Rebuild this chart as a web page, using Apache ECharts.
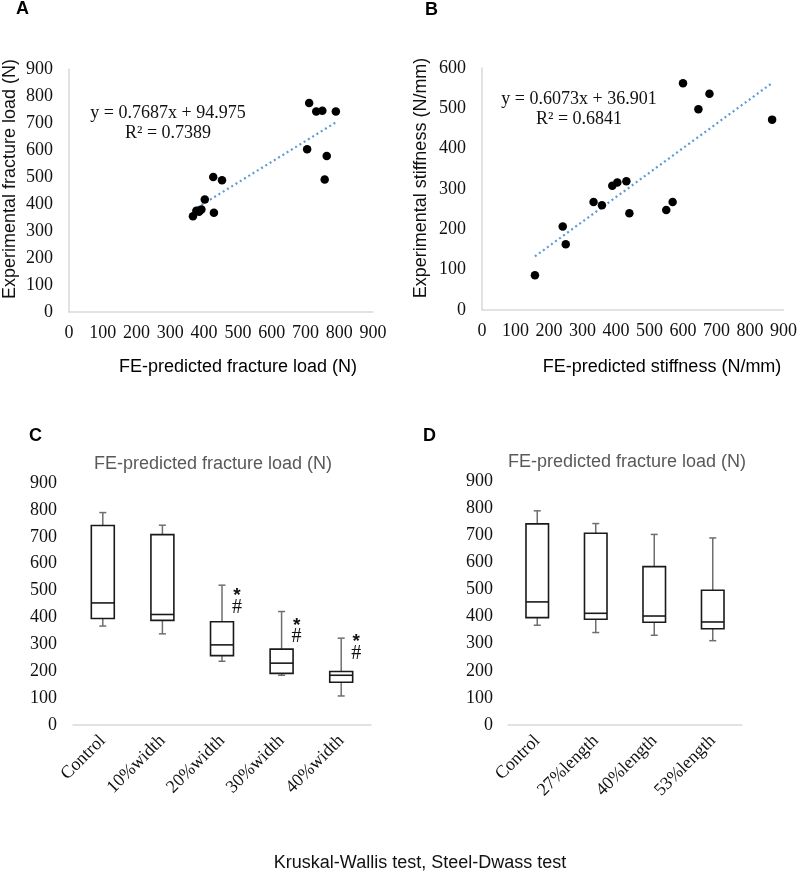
<!DOCTYPE html>
<html><head><meta charset="utf-8">
<script src="https://cdn.jsdelivr.net/npm/echarts@6/dist/echarts.min.js"></script>
<style>html,body{margin:0;padding:0;background:#fff}#c{width:800px;height:872px}</style>
</head><body><div id="c"></div>
<script>
// ---- data ----
const loadPredX = [711, 732, 750, 790, 705, 763, 757, 427, 453, 402, 392, 385, 377, 429, 367];
const loadExpY  = [774, 743, 745, 743, 603, 578, 491, 500, 488, 417, 380, 371, 375, 368, 355];
const loadSlope = 0.7687, loadIntercept = 94.975, loadR2 = 0.7389;

const stiffPredX = [600, 679, 646, 866, 431, 404, 389, 333, 358, 440, 550, 569, 241, 250, 158];
const stiffExpY  = [562, 536, 498, 472, 319, 316, 308, 268, 260, 240, 248, 268, 207, 163, 86];
const stiffSlope = 0.6073, stiffIntercept = 36.901, stiffR2 = 0.6841;

const widthCats = ['Control', '10%width', '20%width', '30%width', '40%width'];
// [min, Q1, median, Q3, max]
const widthBoxes = [
  [368, 396, 454, 742, 790],
  [339, 389, 411, 708, 743],
  [237, 258, 298, 384, 520],
  [185, 192, 230, 282, 422],
  [108, 159, 185, 199, 323]
];
// annotation heights ('*', '#') for groups with significance
const widthSig = [[2, 495, 435], [3, 383, 327], [4, 323, 264]];

const lengthCats = ['Control', '27%length', '40%length', '53%length'];
const lengthBoxes = [
  [368, 396, 454, 742, 790],
  [341, 390, 412, 707, 743],
  [331, 379, 402, 584, 703],
  [311, 355, 380, 497, 690]
];

const ticks900 = 100;

// ---- helpers ----
const SERIF = "'Liberation Serif','Times New Roman',serif";
const SANS = "'Liberation Sans',Arial,sans-serif";
const AX = '#d9d9d9';
const FS = 18;

function trend(xs, m, b) {
  const lo = Math.min(...xs), hi = Math.max(...xs);
  return [[lo, m * lo + b], [hi, m * hi + b]];
}
function zip(xs, ys) { return xs.map((x, i) => [x, ys[i]]); }

function boxRender(params, api) {
  const i = api.value(0);
  const pMin = api.coord([i, api.value(1)]);
  const pQ1 = api.coord([i, api.value(2)]);
  const pMed = api.coord([i, api.value(3)]);
  const pQ3 = api.coord([i, api.value(4)]);
  const pMax = api.coord([i, api.value(5)]);
  const bw = api.size([1, 0])[0] * 0.385;
  const cx = pMed[0];
  const cap = 3.5;
  const wStyle = { stroke: '#6f6f6f', lineWidth: 1.5 };
  const bStyle = { stroke: '#1a1a1a', lineWidth: 1.6 };
  return {
    type: 'group',
    children: [
      { type: 'line', shape: { x1: cx, y1: pQ3[1], x2: cx, y2: pMax[1] }, style: wStyle },
      { type: 'line', shape: { x1: cx - cap, y1: pMax[1], x2: cx + cap, y2: pMax[1] }, style: wStyle },
      { type: 'line', shape: { x1: cx, y1: pQ1[1], x2: cx, y2: pMin[1] }, style: wStyle },
      { type: 'line', shape: { x1: cx - cap, y1: pMin[1], x2: cx + cap, y2: pMin[1] }, style: wStyle },
      { type: 'rect', shape: { x: cx - bw / 2, y: pQ3[1], width: bw, height: pQ1[1] - pQ3[1] }, style: Object.assign({ fill: '#fff' }, bStyle) },
      { type: 'line', shape: { x1: cx - bw / 2, y1: pMed[1], x2: cx + bw / 2, y2: pMed[1] }, style: bStyle }
    ]
  };
}
function sigRender(params, api) {
  const i = api.value(0);
  const pS = api.coord([i, api.value(1)]);
  const pH = api.coord([i, api.value(2)]);
  const dx = 15;
  return {
    type: 'group',
    children: [
      { type: 'text', style: { x: pS[0] + dx, y: pS[1] + 4, text: '*', font: 'bold 19px ' + SANS, fill: '#111', align: 'center', verticalAlign: 'middle' } },
      { type: 'text', style: { x: pH[0] + dx, y: pH[1], text: '#', font: '20px ' + SERIF, fill: '#111', align: 'center', verticalAlign: 'middle' } }
    ]
  };
}

function valAxis(gi, max, interval, margin, showLine) {
  return {
    type: 'value', gridIndex: gi, min: 0, max: max, interval: interval,
    splitLine: { show: false },
    axisLine: { show: showLine, lineStyle: { color: AX, width: 1.5 } },
    axisTick: { show: false },
    axisLabel: { color: '#111', fontFamily: SERIF, fontSize: FS, margin: margin }
  };
}

const chart = echarts.init(document.getElementById('c'), null, { renderer: 'canvas' });

const titleRich = {
  a: { fontFamily: SANS, fontSize: FS, color: '#111' },
  r: { fontFamily: SANS, fontSize: FS, color: '#e00000' }
};

const option = {
  animation: false,
  backgroundColor: '#fff',
  grid: [
    { left: 69, top: 69, width: 304, height: 243 },
    { left: 482, top: 68, width: 304, height: 242 },
    { left: 73, top: 483, width: 298, height: 242 },
    { left: 508, top: 481, width: 234, height: 244 }
  ],
  xAxis: [
    valAxis(0, 900, 100, 12, true),
    valAxis(1, 900, 100, 12, true),
    {
      type: 'category', gridIndex: 2, data: widthCats,
      axisLine: { show: true, lineStyle: { color: AX, width: 1.5 } },
      axisTick: { show: false },
      axisLabel: { rotate: 45, interval: 0, color: '#111', fontFamily: SERIF, fontSize: FS, margin: 13 }
    },
    {
      type: 'category', gridIndex: 3, data: lengthCats,
      axisLine: { show: true, lineStyle: { color: AX, width: 1.5 } },
      axisTick: { show: false },
      axisLabel: { rotate: 45, interval: 0, color: '#111', fontFamily: SERIF, fontSize: FS, margin: 13 }
    }
  ],
  yAxis: [
    valAxis(0, 900, ticks900, 16, true),
    valAxis(1, 600, 100, 16, true),
    valAxis(2, 900, ticks900, 16, false),
    valAxis(3, 900, ticks900, 15, false)
  ],
  series: [
    { type: 'line', xAxisIndex: 0, yAxisIndex: 0, data: trend(loadPredX, loadSlope, loadIntercept), symbol: 'none',
      lineStyle: { color: '#5b9bd5', width: 2.2, type: [2, 3] }, z: 1 },
    { type: 'scatter', xAxisIndex: 0, yAxisIndex: 0, data: zip(loadPredX, loadExpY), symbolSize: 8.5,
      itemStyle: { color: '#000', opacity: 1 }, z: 2 },
    { type: 'line', xAxisIndex: 1, yAxisIndex: 1, data: trend(stiffPredX, stiffSlope, stiffIntercept), symbol: 'none',
      lineStyle: { color: '#5b9bd5', width: 2.2, type: [2, 3] }, z: 1 },
    { type: 'scatter', xAxisIndex: 1, yAxisIndex: 1, data: zip(stiffPredX, stiffExpY), symbolSize: 8.5,
      itemStyle: { color: '#000', opacity: 1 }, z: 2 },
    { type: 'custom', xAxisIndex: 2, yAxisIndex: 2, renderItem: boxRender,
      data: widthBoxes.map((b, i) => [i].concat(b)), encode: { x: 0, y: [1, 2, 3, 4, 5] } },
    { type: 'custom', xAxisIndex: 2, yAxisIndex: 2, renderItem: sigRender,
      data: widthSig, encode: { x: 0, y: [1, 2] } },
    { type: 'custom', xAxisIndex: 3, yAxisIndex: 3, renderItem: boxRender,
      data: lengthBoxes.map((b, i) => [i].concat(b)), encode: { x: 0, y: [1, 2, 3, 4, 5] } }
  ],
  graphic: [
    // panel letters
    { type: 'text', left: 16, top: 0, style: { text: 'A', font: 'bold 18px ' + SANS, fill: '#000' } },
    { type: 'text', left: 425, top: 1, style: { text: 'B', font: 'bold 18px ' + SANS, fill: '#000' } },
    { type: 'text', left: 29, top: 427, style: { text: 'C', font: 'bold 18px ' + SANS, fill: '#000' } },
    { type: 'text', left: 423, top: 427, style: { text: 'D', font: 'bold 18px ' + SANS, fill: '#000' } },
    // axis titles A
    { type: 'text', x: 10, y: 179, rotation: Math.PI / 2,
      style: { text: 'Experimental fracture load (N)', font: FS + 'px ' + SANS, fill: '#111', align: 'center', verticalAlign: 'middle' } },
    { type: 'text', x: 238, y: 367,
      style: { text: '{a|FE}{r|-}{a|predicted fracture load (N)}', rich: titleRich, align: 'center', verticalAlign: 'middle' } },
    // axis titles B
    { type: 'text', x: 421, y: 178, rotation: Math.PI / 2,
      style: { text: 'Experimental stiffness (N/mm)', font: FS + 'px ' + SANS, fill: '#111', align: 'center', verticalAlign: 'middle' } },
    { type: 'text', x: 662, y: 367,
      style: { text: '{a|FE}{r|-}{a|predicted stiffness (N/mm)}', rich: titleRich, align: 'center', verticalAlign: 'middle' } },
    // equations
    { type: 'text', x: 168, y: 113, style: { text: 'y = ' + loadSlope.toFixed(4) + 'x + ' + loadIntercept.toFixed(3), font: FS + 'px ' + SERIF, fill: '#111', align: 'center', verticalAlign: 'middle' } },
    { type: 'text', x: 168, y: 133, style: { text: 'R² = ' + loadR2.toFixed(4), font: FS + 'px ' + SERIF, fill: '#111', align: 'center', verticalAlign: 'middle' } },
    { type: 'text', x: 579, y: 99, style: { text: 'y = ' + stiffSlope.toFixed(4) + 'x + ' + stiffIntercept.toFixed(3), font: FS + 'px ' + SERIF, fill: '#111', align: 'center', verticalAlign: 'middle' } },
    { type: 'text', x: 579, y: 119, style: { text: 'R² = ' + stiffR2.toFixed(4), font: FS + 'px ' + SERIF, fill: '#111', align: 'center', verticalAlign: 'middle' } },
    // box plot titles
    { type: 'text', x: 213, y: 464, style: { text: 'FE-predicted fracture load (N)', font: FS + 'px ' + SANS, fill: '#595959', align: 'center', verticalAlign: 'middle' } },
    { type: 'text', x: 627, y: 462, style: { text: 'FE-predicted fracture load (N)', font: FS + 'px ' + SANS, fill: '#595959', align: 'center', verticalAlign: 'middle' } },
    // footer
    { type: 'text', x: 420, y: 863, style: { text: 'Kruskal-Wallis test, Steel-Dwass test', font: '18px ' + SANS, fill: '#111', align: 'center', verticalAlign: 'middle' } }
  ]
};
chart.setOption(option);
</script></body></html>
